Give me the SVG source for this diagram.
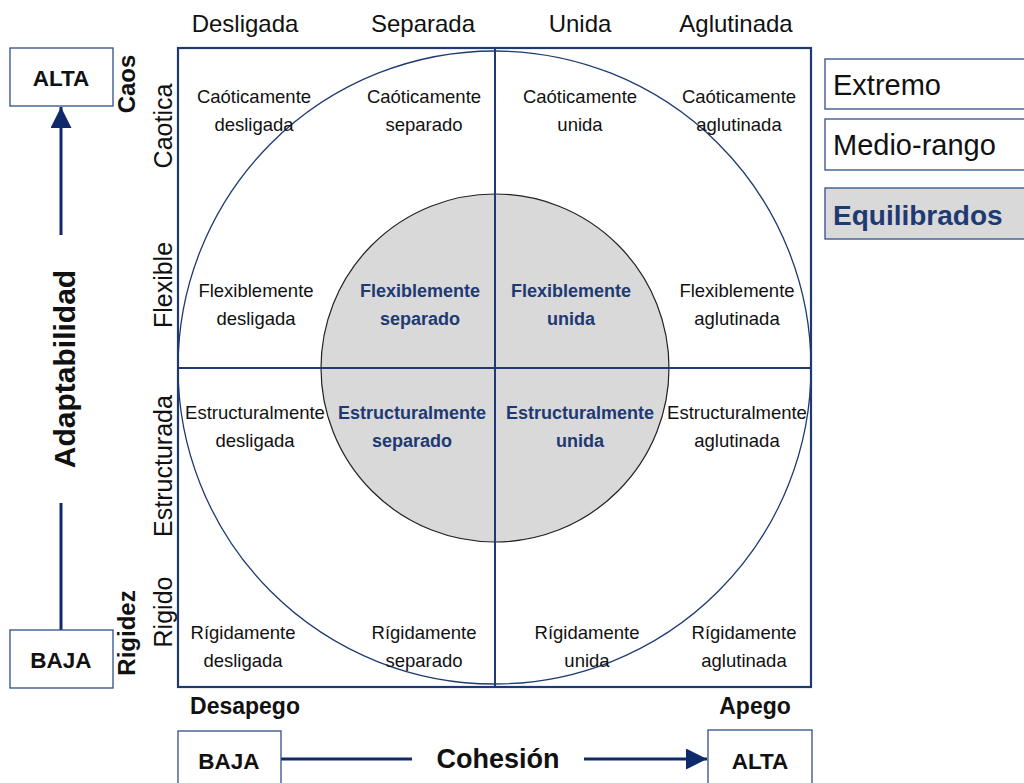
<svg xmlns="http://www.w3.org/2000/svg" width="1024" height="783" viewBox="0 0 1024 783">
<defs>
<style>
text{font-family:"Liberation Sans",Arial,sans-serif;fill:#111;}
.axis{font-size:24px;text-anchor:middle;}
.side{font-size:25px;text-anchor:middle;}
.sideb{font-size:24px;font-weight:bold;text-anchor:middle;}
.cell{font-size:18.5px;text-anchor:middle;}
.bal{font-size:18px;font-weight:bold;text-anchor:middle;fill:#1f3a73;}
.lvl{font-size:22.5px;font-weight:bold;text-anchor:middle;}
.pole{font-size:23px;font-weight:bold;text-anchor:middle;}
.legend{font-size:29px;}
.box{fill:#fff;stroke:#2f4d8a;stroke-width:1.3;}
.conn{stroke:#0f2a6b;stroke-width:3;fill:none;}
</style>
<marker id="ah" viewBox="0 0 10 10" refX="10" refY="5" markerWidth="7" markerHeight="7" markerUnits="strokeWidth" orient="auto">
<path d="M0,0 L10,5 L0,10 z" fill="#0f2a6b"/>
</marker>
</defs>
<rect width="1024" height="783" fill="#fff"/>

<g id="grid">
<circle cx="494.5" cy="367.5" r="316.5" fill="none" stroke="#1f3a73" stroke-width="1.3"/>
<circle cx="495" cy="368" r="174" fill="#d9d9d9" stroke="#222" stroke-width="1.2"/>
<line x1="495" y1="48" x2="495" y2="687" stroke="#1f3a73" stroke-width="2"/>
<line x1="178" y1="368" x2="811" y2="368" stroke="#1f3a73" stroke-width="2"/>
<rect x="178" y="48" width="633" height="639" fill="none" stroke="#1f3a73" stroke-width="2.2"/>
</g>

<g id="axis-top">
<text class="axis" x="245" y="32">Desligada</text>
<text class="axis" x="423" y="32">Separada</text>
<text class="axis" x="580" y="32">Unida</text>
<text class="axis" x="736" y="32">Aglutinada</text>
</g>

<g id="axis-left">
<text class="side" transform="translate(172,126) rotate(-90)">Caotica</text>
<text class="side" transform="translate(172,285) rotate(-90)">Flexible</text>
<text class="side" transform="translate(172,466) rotate(-90)">Estructurada</text>
<text class="side" transform="translate(172,612) rotate(-90)">Rigido</text>
<text class="sideb" transform="translate(135,84) rotate(-90)">Caos</text>
<text class="sideb" transform="translate(135,633) rotate(-90)">Rigidez</text>
</g>

<g id="row-caotica">
<text class="cell" x="254" y="103">Caóticamente</text><text class="cell" x="254" y="131">desligada</text>
<text class="cell" x="424" y="103">Caóticamente</text><text class="cell" x="424" y="131">separado</text>
<text class="cell" x="580" y="103">Caóticamente</text><text class="cell" x="580" y="131">unida</text>
<text class="cell" x="739" y="103">Caóticamente</text><text class="cell" x="739" y="131">aglutinada</text>
</g>

<g id="row-flexible">
<text class="cell" x="256" y="297">Flexiblemente</text><text class="cell" x="256" y="325">desligada</text>
<text class="bal" x="420" y="297">Flexiblemente</text><text class="bal" x="420" y="325">separado</text>
<text class="bal" x="571" y="297">Flexiblemente</text><text class="bal" x="571" y="325">unida</text>
<text class="cell" x="737" y="297">Flexiblemente</text><text class="cell" x="737" y="325">aglutinada</text>
</g>

<g id="row-estructurada">
<text class="cell" x="255" y="419">Estructuralmente</text><text class="cell" x="255" y="447">desligada</text>
<text class="bal" x="412" y="419">Estructuralmente</text><text class="bal" x="412" y="447">separado</text>
<text class="bal" x="580" y="419">Estructuralmente</text><text class="bal" x="580" y="447">unida</text>
<text class="cell" x="737" y="419">Estructuralmente</text><text class="cell" x="737" y="447">aglutinada</text>
</g>

<g id="row-rigido">
<text class="cell" x="243" y="639">Rígidamente</text><text class="cell" x="243" y="667">desligada</text>
<text class="cell" x="424" y="639">Rígidamente</text><text class="cell" x="424" y="667">separado</text>
<text class="cell" x="587" y="639">Rígidamente</text><text class="cell" x="587" y="667">unida</text>
<text class="cell" x="744" y="639">Rígidamente</text><text class="cell" x="744" y="667">aglutinada</text>
</g>

<g id="connectors">
<line class="conn" x1="61" y1="630" x2="61" y2="107" marker-end="url(#ah)"/>
<line class="conn" x1="281" y1="759" x2="707" y2="759" marker-end="url(#ah)"/>
</g>

<g id="label-adaptabilidad">
<rect x="38" y="235" width="47" height="268" fill="#fff"/>
<text transform="translate(75,369) rotate(-90)" style="font-size:30px;font-weight:bold;text-anchor:middle;">Adaptabilidad</text>
</g>

<g id="label-cohesion">
<rect x="412" y="732" width="172" height="50" fill="#fff"/>
<text x="498" y="768" style="font-size:27px;font-weight:bold;text-anchor:middle;">Cohesión</text>
</g>

<g id="alta-left">
<rect class="box" x="10" y="48" width="103" height="58"/>
<text class="lvl" x="61" y="86">ALTA</text>
</g>
<g id="baja-left">
<rect class="box" x="10" y="630" width="103" height="58"/>
<text class="lvl" x="61" y="668">BAJA</text>
</g>
<g id="baja-bottom">
<rect class="box" x="178" y="731" width="103" height="60"/>
<text class="lvl" x="229" y="769">BAJA</text>
</g>
<g id="alta-bottom">
<rect class="box" x="708" y="730" width="104" height="60"/>
<text class="lvl" x="760" y="769">ALTA</text>
</g>

<g id="poles">
<text class="pole" x="245" y="714">Desapego</text>
<text class="pole" x="755" y="714">Apego</text>
</g>

<g id="legend-extremo">
<rect class="box" x="825" y="59" width="210" height="50"/>
<text class="legend" x="833" y="95">Extremo</text>
</g>
<g id="legend-medio">
<rect class="box" x="825" y="119" width="210" height="51"/>
<text class="legend" x="833" y="155">Medio-rango</text>
</g>
<g id="legend-equilibrados">
<rect class="box" x="825" y="188" width="210" height="51" style="fill:#d9d9d9"/>
<text class="legend" x="833" y="225" style="font-size:28px;font-weight:bold;fill:#1f3a73">Equilibrados</text>
</g>
</svg>
